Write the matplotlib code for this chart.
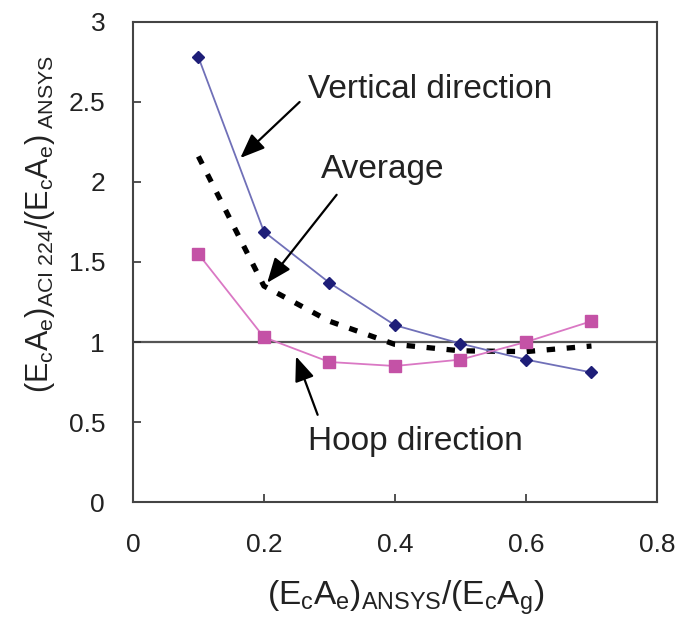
import matplotlib
matplotlib.use("Agg")
import matplotlib.pyplot as plt

plt.rcParams['font.family'] = ['Liberation Sans', 'DejaVu Sans']
plt.rcParams['mathtext.fontset'] = 'custom'
plt.rcParams['mathtext.rm'] = 'Liberation Sans'
plt.rcParams['mathtext.it'] = 'Liberation Sans'

x_vals = [0.1, 0.2, 0.3, 0.4, 0.5, 0.6, 0.7]
vertical = [2.78, 1.69, 1.37, 1.105, 0.99, 0.89, 0.81]
hoop = [1.55, 1.03, 0.875, 0.85, 0.89, 1.0, 1.13]
average = [2.16, 1.35, 1.13, 0.985, 0.945, 0.94, 0.975]

x_ticks = [0, 0.2, 0.4, 0.6, 0.8]
x_ticklabels = ["0", "0.2", "0.4", "0.6", "0.8"]
y_ticks = [0, 0.5, 1, 1.5, 2, 2.5, 3]
y_ticklabels = ["0", "0.5", "1", "1.5", "2", "2.5", "3"]

fig = plt.figure(figsize=(6.78, 6.21), dpi=100)
ax = fig.add_axes([0.196, 0.1916, 0.773, 0.773])

ax.axhline(1.0, color='#555555', lw=1.6, zorder=1)
ax.plot(x_vals, average, color='black', lw=3.8, linestyle=(0, (1.6, 2.2)), zorder=2)
ax.plot(x_vals, vertical, color='#7070B8', lw=1.3, marker='D', markersize=6,
        markerfacecolor='#1E1E78', markeredgecolor='#1E1E78', zorder=3)
ax.plot(x_vals, hoop, color='#DA78C4', lw=1.3, marker='s', markersize=8,
        markerfacecolor='#C452A6', markeredgecolor='#C452A6', zorder=3)

ax.set_xlim(0, 0.8)
ax.set_ylim(0, 3)
ax.set_xticks(x_ticks)
ax.set_xticklabels(x_ticklabels)
ax.set_yticks(y_ticks)
ax.set_yticklabels(y_ticklabels)
ax.tick_params(axis='both', direction='in', length=6, width=1.2, labelsize=19,
               colors='#333333', labelcolor='#222222')
ax.tick_params(axis='x', pad=22)
ax.tick_params(axis='y', pad=20)
for s in ax.spines.values():
    s.set_color('#444444')
    s.set_linewidth(1.5)

arrow = dict(arrowstyle='-|>,head_length=1.5,head_width=0.6', color='black', lw=1.6,
             shrinkA=0, shrinkB=0)
ax.annotate('', xy=(0.164, 2.15), xytext=(0.2545, 2.50), arrowprops=arrow)
ax.annotate('', xy=(0.205, 1.37), xytext=(0.311, 1.92), arrowprops=arrow)
ax.annotate('', xy=(0.249, 0.91), xytext=(0.282, 0.545), arrowprops=arrow)

ax.text(0.268, 2.575, 'Vertical direction', fontsize=24, va='center', ha='left', color='#222222')
ax.text(0.287, 2.075, 'Average', fontsize=24, va='center', ha='left', color='#222222')
ax.text(0.268, 0.377, 'Hoop direction', fontsize=24, va='center', ha='left', color='#222222')

ax.set_xlabel(r'$(\mathrm{E_cA_e})_{\mathrm{ANSYS}}/(\mathrm{E_cA_g})$', fontsize=24,
              color='#222222')
ax.xaxis.set_label_coords(0.52, -0.16)
ax.set_ylabel(r'$(\mathrm{E_cA_e})_{\mathrm{ACI\ 224}}/(\mathrm{E_cA_e})_{\mathrm{\ ANSYS}}$',
              fontsize=22, color='#222222')
ax.yaxis.set_label_coords(-0.145, 0.58)

fig.savefig('out.png', dpi=100)
